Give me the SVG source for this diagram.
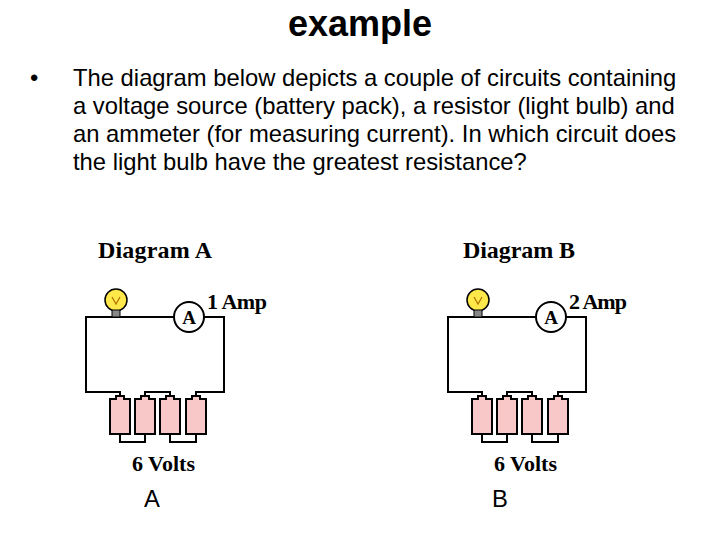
<svg xmlns="http://www.w3.org/2000/svg" width="720" height="540" viewBox="0 0 720 540">
<style>
.t{font-family:"Liberation Sans",Arial,sans-serif;font-size:23.8px;fill:#000}
.h{font-family:"Liberation Serif","Times New Roman",serif;font-weight:bold;font-size:24px;fill:#000}
.w{fill:none;stroke:#000;stroke-width:2}
.cell{fill:#f8c8c8;stroke:#000;stroke-width:2}
</style>
<defs>
<g id="circ">
<g id="wires" class="w">
<path class="w" d="M115,317 H86 V392 H120 V397"/>
<path class="w" d="M115,317 H174"/>
<path class="w" d="M204,317 H224 V392 H196 V397"/>
<path class="w" d="M145,397 V392 H170 V397"/>
<path class="w" d="M120,434 V442 H145 V434"/>
<path class="w" d="M170,434 V442 H196 V434"/>
</g>
<g class="bulb">
<circle cx="116" cy="300" r="11" fill="#ffe84a" stroke="#000" stroke-width="1.5"/>
<path d="M112,297 L116,304 L120,297" fill="none" stroke="#b07000" stroke-width="1.2"/>
<rect x="112" y="310" width="8" height="7" fill="#888" stroke="#000" stroke-width="1"/>
</g>
<g class="ammeter">
<circle cx="189" cy="317" r="15" fill="#fff" stroke="#000" stroke-width="2"/>
<text x="189" y="324" text-anchor="middle" class="h" style="font-size:19px">A</text>
</g>
<g class="battery">
<path class="cell" d="M110,434 V399 H116 V396 H124 V399 H130 V434 Z"/>
<path class="cell" d="M135,434 V399 H141 V396 H149 V399 H155 V434 Z"/>
<path class="cell" d="M160,434 V399 H166 V396 H174 V399 H180 V434 Z"/>
<path class="cell" d="M186,434 V399 H192 V396 H200 V399 H206 V434 Z"/>
</g>
<text x="132" y="471" class="h" textLength="63" style="font-size:22px">6 Volts</text>
</g>
</defs>
<text x="360" y="36" text-anchor="middle" style="font-family:'Liberation Sans',Arial,sans-serif;font-size:36px;font-weight:bold">example</text>
<g id="text">
<text x="30" y="86" class="t">•</text>
<text x="73" y="86" class="t">The diagram below depicts a couple of circuits containing</text>
<text x="73" y="114" class="t">a voltage source (battery pack), a resistor (light bulb) and</text>
<text x="73" y="142" class="t">an ammeter (for measuring current). In which circuit does</text>
<text x="73" y="170" class="t">the light bulb have the greatest resistance?</text>
</g>
<g id="diagramA">
<text x="98" y="258" class="h" textLength="114">Diagram A</text>
<use href="#circ"/>
<text x="207" y="309" class="h" textLength="60" style="font-size:22px">1 Amp</text>
<text x="152" y="507" text-anchor="middle" class="t">A</text>
</g>
<g id="diagramB">
<text x="463" y="258" class="h" textLength="112">Diagram B</text>
<use href="#circ" transform="translate(362,0)"/>
<text x="569" y="309" class="h" textLength="58" style="font-size:22px">2 Amp</text>
<text x="500" y="507" text-anchor="middle" class="t">B</text>
</g>
</svg>
